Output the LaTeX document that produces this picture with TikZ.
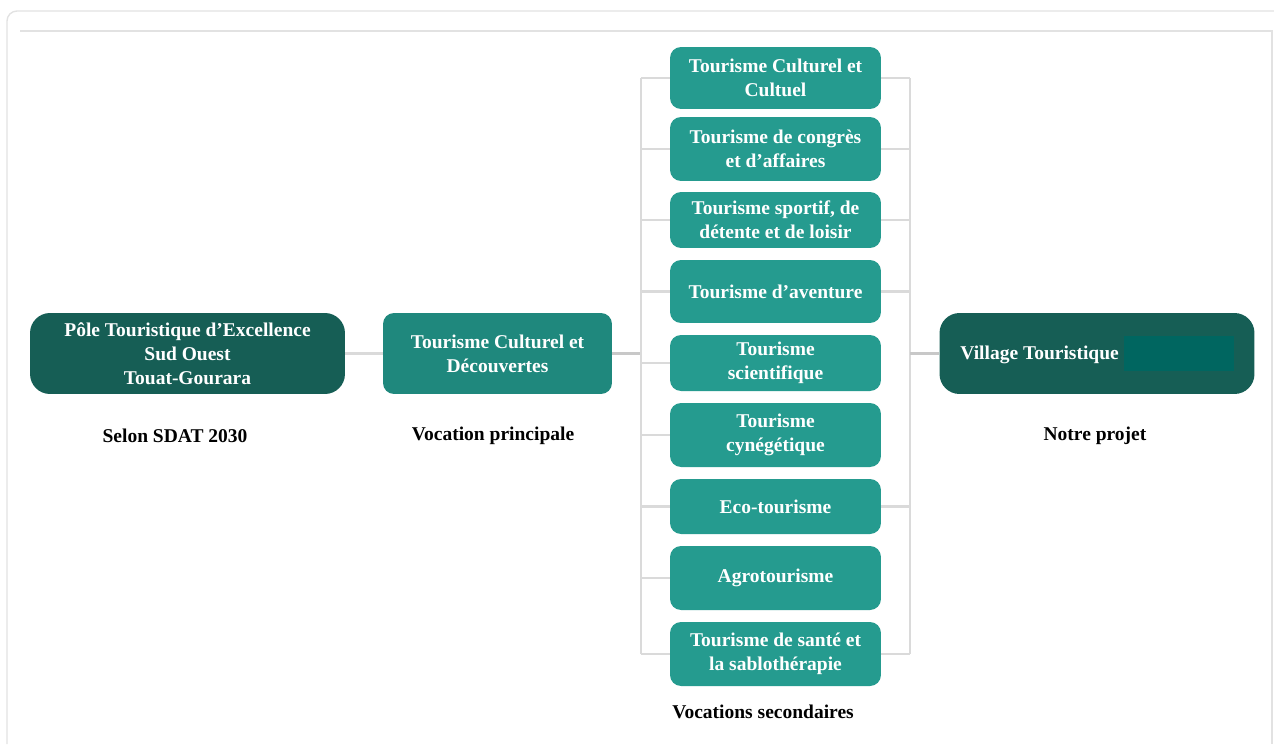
\documentclass[tikz,border=0pt]{standalone}
\usepackage{fontspec}
\setmainfont{Liberation Serif}
\usepackage{xcolor}

\definecolor{pinedark}{HTML}{165E55}
\definecolor{pinemid}{HTML}{1F887D}
\definecolor{pinelight}{HTML}{259B8F}
\definecolor{hidebox}{HTML}{006660}
\definecolor{linkgray}{HTML}{DADADA}
\definecolor{linkdark}{HTML}{C8C8C8}
\definecolor{framegray}{HTML}{E2E2E2}

\tikzset{
	tbox/.style={rounded corners=0.22cm, text=white, font=\bfseries\fontsize{11.1}{13.8}\selectfont, align=center, inner sep=0pt},
	bigbox/.style={tbox, fill=pinedark, minimum width=6.3cm, minimum height=1.62cm, rounded corners=0.4cm},
	midbox/.style={tbox, fill=pinemid, minimum width=4.58cm, minimum height=1.62cm},
	vocbox/.style={tbox, fill=pinelight, minimum width=4.22cm},
	tag/.style={font=\bfseries\fontsize{11.1}{13.8}\selectfont, text=black},
	link/.style={draw=linkgray, line width=1.2pt}
}

\begin{document}
\begin{tikzpicture} [x=0.02cm, y=-0.02cm] %one unit is one pixel of the sheet
\useasboundingbox (0,0) rectangle (1274,744);

	%sheet frame
\draw [framegray, line width=0.8pt, rounded corners=0.2cm] (7,744) -- (7,11) -- (1274,11);
\draw [framegray, line width=1pt] (20,31) -- (1272,31) -- (1272,744);

	%main chain
\node [bigbox] (pole) at (187.5,353.5) {Pôle Touristique d’Excellence\\Sud Ouest\\Touat-Gourara};
\node [midbox] (tcd) at (497.5,353.5) {Tourisme Culturel et\\Découvertes};
\node [bigbox] (village) at (1097,353.5) {Village Touristique \textcolor{hidebox}{\rule[-0.24cm]{2.2cm}{0.7cm}}};

	%secondary column
\node [vocbox, minimum height=1.24cm] (v1) at (775.5,78) {Tourisme Culturel et\\Cultuel};
\node [vocbox, minimum height=1.28cm] (v2) at (775.5,149) {Tourisme de congrès\\et d’affaires};
\node [vocbox, minimum height=1.12cm] (v3) at (775.5,220) {Tourisme sportif, de\\détente et de loisir};
\node [vocbox, minimum height=1.26cm] (v4) at (775.5,291.5) {Tourisme d’aventure};
\node [vocbox, minimum height=1.12cm] (v5) at (775.5,363) {Tourisme\\scientifique};
\node [vocbox, minimum height=1.28cm] (v6) at (775.5,435) {Tourisme\\cynégétique};
\node [vocbox, minimum height=1.10cm] (v7) at (775.5,506.5) {Eco-tourisme};
\node [vocbox, minimum height=1.28cm] (v8) at (775.5,578) {Agrotourisme};
\node [vocbox, minimum height=1.28cm] (v9) at (775.5,654) {Tourisme de santé et\\la sablothérapie};

	%captions
\node [tag] (sdat) at (175,436) {Selon SDAT 2030};
\node [tag] (princ) at (493,436) {Vocation principale};
\node [tag] (second) at (763,712) {Vocations secondaires};
\node [tag] (projet) at (1095,436) {Notre projet};

	%bus lines either side of the column
\coordinate (lbus) at (641,353.5);
\coordinate (rbus) at (910,353.5);

\draw [link] (pole) -- (tcd);
\draw [link, draw=linkdark, line width=1.6pt] (tcd) -- (lbus);
\draw [link] (v1.west -| lbus) -- (v9.west -| lbus);
\draw [link] (v1.east -| rbus) -- (v9.east -| rbus);
\foreach \n in {1,...,9}
	\draw [link] (v\n.west) -- (v\n.west -| lbus);
\foreach \n in {1,2,3,4,7,9}
	\draw [link] (v\n.east) -- (v\n.east -| rbus);
\draw [link, draw=linkdark] (rbus) -- (village);

\end{tikzpicture}
\end{document}
